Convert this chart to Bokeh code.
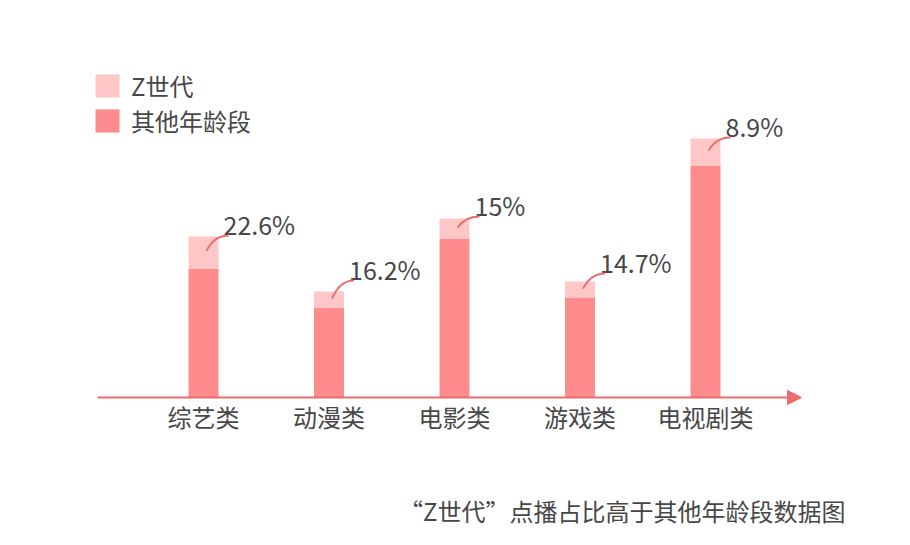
from bokeh.plotting import figure
from bokeh.models import (Range1d, ColumnDataSource, Arrow, NormalHead, Legend,
                          LegendItem, Label)
from bokeh.core.properties import value
from bokeh.embed import file_html
from bokeh.resources import INLINE

# ---- data ----
categories = ["综艺类", "动漫类", "电影类", "游戏类", "电视剧类"]
other_ages = [129, 90, 159, 100, 232]      # 其他年龄段
gen_z_extra = [32, 16, 20, 16, 27]         # Z世代 (above other ages)
pct_labels = ["22.6%", "16.2%", "15%", "14.7%", "8.9%"]
series_names = ["Z世代", "其他年龄段"]
caption = "“Z世代”点播占比高于其他年龄段数据图"

# ---- styles ----
W, H = 910, 545
FONT = "Noto Sans CJK SC"
TXT = "#474747"
C_OTHER = "#FF8C8C"
C_Z = "#FFC7C7"
C_LINE = "#EE6B6B"
PX_PER_CAT = 125.5
FIRST_CX = 203
BASE_PX = 397
label_lift = [13, 23, 14, 20, 13]   # px above bar top of label centre

x_start = -FIRST_CX / PX_PER_CAT
x_end = x_start + W / PX_PER_CAT
p = figure(width=W, height=H, output_backend="svg", toolbar_location=None,
           x_range=Range1d(x_start, x_end), y_range=Range1d(BASE_PX - H, BASE_PX),
           min_border=0, min_border_left=0, min_border_right=0,
           min_border_top=0, min_border_bottom=0)
p.axis.visible = False
p.grid.visible = False
p.outline_line_color = None
p.background_fill_color = "white"
p.border_fill_color = "white"

xs = list(range(len(categories)))
totals = [a + b for a, b in zip(other_ages, gen_z_extra)]
src = ColumnDataSource(dict(x=xs, cat=categories, other=other_ages, z=gen_z_extra,
                            total=totals, zero=[0] * len(xs)))
bw = 30 / PX_PER_CAT
r_other = p.vbar(x="x", bottom="zero", top="other", width=bw, source=src,
                 fill_color=C_OTHER, line_color=None)
r_z = p.vbar(x="x", bottom="other", top="total", width=bw, source=src,
             fill_color=C_Z, line_color=None)

# axis with arrow
p.add_layout(Arrow(end=NormalHead(size=14, fill_color=C_LINE, line_color=C_LINE),
                   x_start=x_start + 97 / PX_PER_CAT, y_start=0,
                   x_end=x_start + 801 / PX_PER_CAT, y_end=0,
                   line_color=C_LINE, line_width=2))

# category labels
p.text(x="x", y=-19, text="cat", source=src, text_align="center",
       text_baseline="middle", text_font=value(FONT), text_font_size="24px",
       text_color=TXT)

# value labels and leader curves
lx = [i + 20 / PX_PER_CAT for i in xs]
ly = [t + d for t, d in zip(totals, label_lift)]
p.text(x=lx, y=ly, text=pct_labels, text_align="left", text_baseline="middle",
       text_font=value(FONT), text_font_size="25px", text_color=TXT)
x0 = [i + 3 / PX_PER_CAT for i in xs]
y0 = [t - min(15, z * 0.45) for t, z in zip(totals, gen_z_extra)]
x1 = [x + 5 / PX_PER_CAT for x in lx]
y1 = [y - 12 for y in ly]
cx = [a + 0.35 * (b - a) for a, b in zip(x0, x1)]
cy = y1
p.quadratic(x0=x0, y0=y0, x1=x1, y1=y1, cx=cx, cy=cy, line_color=C_LINE,
            line_width=1.8)

# legend
legend = Legend(items=[LegendItem(label=series_names[0], renderers=[r_z]),
                       LegendItem(label=series_names[1], renderers=[r_other])],
                location=(92, H - 138), orientation="vertical",
                glyph_width=30, glyph_height=29, label_height=29, spacing=-4,
                label_standoff=9, padding=0, margin=0,
                label_text_font=FONT, label_text_font_size="24px",
                label_text_color=TXT, border_line_alpha=0,
                background_fill_alpha=0)
p.add_layout(legend, "center")

p.add_layout(Label(x=845, y=H - 510, x_units="screen", y_units="screen",
                   text=caption, text_align="right", text_baseline="middle",
                   text_font=FONT, text_font_size="24px", text_color=TXT))

open("out.html", "w").write(file_html(p, INLINE))
